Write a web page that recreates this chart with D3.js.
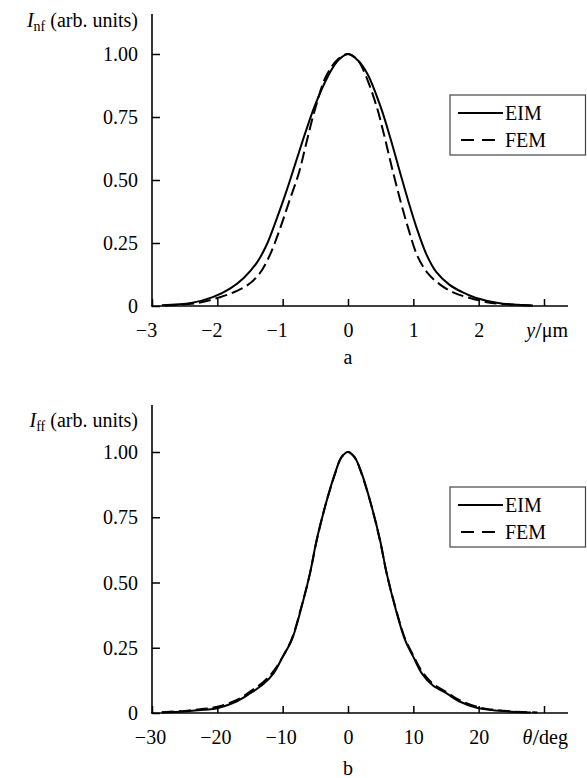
<!DOCTYPE html>
<html>
<head>
<meta charset="utf-8">
<script src="https://cdn.jsdelivr.net/npm/d3@7"></script>
</head>
<body style="margin:0">
<svg id="chart" width="587" height="778"></svg>
<script>
// Panel a: near-field intensity profile vs y (um)
const nfEimY = [-2.85, -2.4, -2.07, -1.8, -1.6, -1.4, -1.25, -1.1, -0.95, -0.8, -0.65, -0.5, -0.3, -0.15, 0, 0.15, 0.3, 0.5, 0.65, 0.8, 0.93, 1.05, 1.2, 1.35, 1.55, 1.75, 1.95, 2.3, 2.6, 2.83];
const nfEimI = [0.003, 0.012, 0.035, 0.07, 0.11, 0.17, 0.24, 0.34, 0.45, 0.57, 0.69, 0.8, 0.915, 0.975, 1.0, 0.975, 0.92, 0.79, 0.665, 0.527, 0.41, 0.31, 0.205, 0.135, 0.085, 0.055, 0.033, 0.012, 0.005, 0.002];
const nfFemY = [-2.8, -2.3, -1.96, -1.7, -1.5, -1.35, -1.2, -1.05, -0.9, -0.75, -0.63, -0.5, -0.33, -0.15, 0, 0.15, 0.27, 0.44, 0.57, 0.69, 0.8, 0.92, 1.06, 1.22, 1.41, 1.6, 1.82, 2.2, 2.6, 2.8];
const nfFemI = [0.002, 0.012, 0.035, 0.06, 0.09, 0.13, 0.2, 0.3, 0.415, 0.53, 0.655, 0.785, 0.915, 0.98, 1.0, 0.975, 0.915, 0.79, 0.66, 0.53, 0.42, 0.31, 0.2, 0.13, 0.085, 0.055, 0.035, 0.012, 0.004, 0.002];

// Panel b: far-field intensity profile vs theta (deg)
const ffEimT = [-28.5, -25, -22, -20, -17, -15, -13, -11.4, -10, -8.6, -7.1, -5.82, -4.8, -3.52, -1.99, -1, 0, 1, 2.1, 3.63, 4.9, 5.92, 7.2, 8.73, 10, 11.3, 13, 15.1, 17, 19.7, 22, 25, 28];
const ffEimI = [0.002, 0.006, 0.012, 0.018, 0.045, 0.075, 0.11, 0.152, 0.215, 0.28, 0.407, 0.535, 0.663, 0.79, 0.918, 0.98, 1.0, 0.98, 0.918, 0.79, 0.663, 0.535, 0.407, 0.28, 0.215, 0.152, 0.105, 0.075, 0.045, 0.02, 0.011, 0.005, 0.002];
const ffFemT = [-28.5, -25, -22, -20, -17, -15, -13, -11.4, -10, -8.6, -7.1, -5.82, -4.8, -3.52, -2, -1, 0, 1, 2.1, 3.63, 4.9, 5.92, 7.2, 8.73, 10, 11.3, 13, 15.1, 17, 20, 22, 25, 29];
const ffFemI = [0.003, 0.008, 0.016, 0.024, 0.05, 0.082, 0.118, 0.16, 0.215, 0.285, 0.41, 0.535, 0.66, 0.79, 0.915, 0.98, 1.0, 0.98, 0.915, 0.79, 0.66, 0.535, 0.41, 0.285, 0.22, 0.16, 0.112, 0.08, 0.05, 0.022, 0.013, 0.006, 0.002];

// Axis ticks and labels
const yTicks = [0, 0.25, 0.5, 0.75, 1.0];
const yTickLabels = ["0", "0.25", "0.50", "0.75", "1.00"];
const nfXTicks = [-3, -2, -1, 0, 1, 2, 3];
const nfXTickLabels = ["\u22123", "\u22122", "\u22121", "0", "1", "2", ""];
const ffXTicks = [-30, -20, -10, 0, 10, 20, 30];
const ffXTickLabels = ["\u221230", "\u221220", "\u221210", "0", "10", "20", ""];
const seriesNames = ["EIM", "FEM"];

const svg = d3.select("#chart");

function zip(xs, ys) { return xs.map((x, i) => [x, ys[i]]); }
function txt(sel) {
  return sel.attr("font-size", 20).style("font-family", "'Liberation Serif'");
}

function drawPanel(p) {
  const g = svg.append("g");
  const x = d3.scaleLinear().domain(p.xDomain).range([152, 544]);
  const y = d3.scaleLinear().domain([0, 1]).range([p.y0, p.y1]);

  // y axis: inward ticks, labels on the left
  const yAxis = d3.axisLeft(y).tickValues(yTicks)
    .tickFormat((d, i) => yTickLabels[i])
    .tickSizeInner(-8).tickSizeOuter(0).tickPadding(14);
  const ya = g.append("g").attr("transform", "translate(152,0)").call(yAxis);
  ya.select(".domain").remove();
  ya.selectAll(".tick line").attr("stroke", "#000").attr("stroke-width", 1.5);
  txt(ya.selectAll(".tick text")).attr("dy", "0.33em");

  // x axis: inward ticks
  const xAxis = d3.axisBottom(x).tickValues(p.xTicks)
    .tickFormat((d, i) => p.xLabels[i])
    .tickSizeInner(-7).tickSizeOuter(0).tickPadding(17);
  const xa = g.append("g").attr("transform", `translate(0,${p.y0})`).call(xAxis);
  xa.select(".domain").remove();
  xa.selectAll(".tick line").attr("stroke", "#000").attr("stroke-width", 1.5);
  txt(xa.selectAll(".tick text"))
    .attr("dx", d => d < 0 ? (String(Math.abs(d)).length > 1 ? -2 : -6) : 0);

  // axis lines
  g.append("line").attr("x1", 152).attr("x2", 152).attr("y1", p.y0).attr("y2", p.axisTop)
    .attr("stroke", "#000").attr("stroke-width", 1.6);
  g.append("line").attr("x1", 151).attr("x2", 568).attr("y1", p.y0).attr("y2", p.y0)
    .attr("stroke", "#000").attr("stroke-width", 1.6);

  // curves
  const line = d3.line().x(d => x(d[0])).y(d => y(d[1])).curve(d3.curveCatmullRom.alpha(0.5));
  g.append("path").datum(zip(p.femX, p.femI)).attr("d", line)
    .attr("fill", "none").attr("stroke", "#000").attr("stroke-width", 2)
    .attr("stroke-dasharray", "12,5");
  g.append("path").datum(zip(p.eimX, p.eimI)).attr("d", line)
    .attr("fill", "none").attr("stroke", "#000").attr("stroke-width", 2);

  // y-axis title with subscript
  const yt = txt(g.append("text")).attr("x", 138).attr("y", p.titleY).attr("text-anchor", "end");
  yt.append("tspan").attr("font-style", "italic").text("I");
  yt.append("tspan").attr("font-size", 14).attr("dy", 4).text(p.sub);
  yt.append("tspan").attr("dy", -4).text(" (arb. units)");

  // x-axis unit label
  const xu = txt(g.append("text")).attr("x", 568).attr("y", p.y0 + 31).attr("text-anchor", "end");
  xu.append("tspan").attr("font-style", "italic").text(p.varName);
  xu.append("tspan").attr("font-size", 24).attr("dy", 1).text("/");
  xu.append("tspan").attr("dy", -1).text(p.unit);

  // panel letter
  txt(g.append("text")).attr("x", 348).attr("y", p.letterY).attr("text-anchor", "middle").text(p.letter);

  // legend
  const lg = g.append("g").attr("transform", `translate(450,${p.legendTop})`);
  lg.append("rect").attr("x", 0).attr("y", 0).attr("width", 135.5).attr("height", 60)
    .attr("fill", "#fff").attr("stroke", "#444").attr("stroke-width", 1.2);
  lg.append("line").attr("x1", 8).attr("x2", 53).attr("y1", 18).attr("y2", 18)
    .attr("stroke", "#000").attr("stroke-width", 2);
  lg.append("line").attr("x1", 11).attr("x2", 45).attr("y1", 45).attr("y2", 45)
    .attr("stroke", "#000").attr("stroke-width", 2).attr("stroke-dasharray", "13,8");
  txt(lg.append("text")).attr("x", 55).attr("y", 25).text(seriesNames[0]);
  txt(lg.append("text")).attr("x", 55).attr("y", 52).text(seriesNames[1]);
}

drawPanel({
  xDomain: [-3, 3], y0: 306, y1: 54, axisTop: 14,
  xTicks: nfXTicks, xLabels: nfXTickLabels,
  eimX: nfEimY, eimI: nfEimI, femX: nfFemY, femI: nfFemI,
  titleY: 27, sub: "nf", varName: "y", unit: "\u03bcm",
  letter: "a", letterY: 364, legendTop: 95
});

drawPanel({
  xDomain: [-30, 30], y0: 713, y1: 452, axisTop: 405,
  xTicks: ffXTicks, xLabels: ffXTickLabels,
  eimX: ffEimT, eimI: ffEimI, femX: ffFemT, femI: ffFemI,
  titleY: 427, sub: "ff", varName: "\u03b8", unit: "deg",
  letter: "b", letterY: 775, legendTop: 487
});
</script>
</body>
</html>
